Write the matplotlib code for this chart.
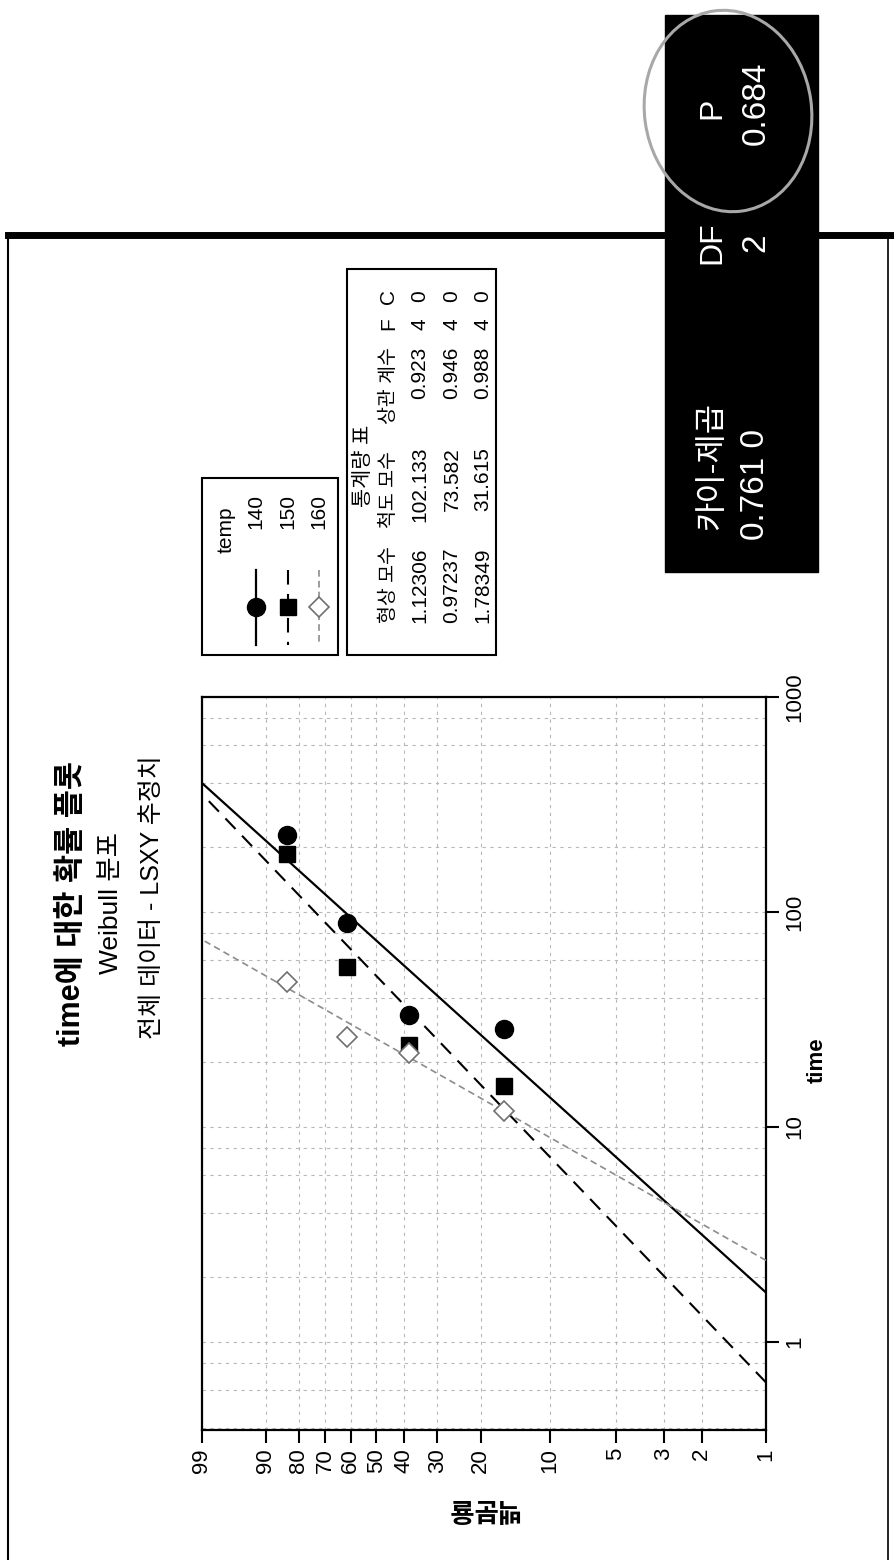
import numpy as np
import matplotlib
matplotlib.use("Agg")
import matplotlib.pyplot as plt
from matplotlib.patches import Rectangle, Ellipse
from matplotlib.ticker import FixedLocator, FixedFormatter, NullFormatter, NullLocator

plt.rcParams['font.family'] = ['Liberation Sans', 'Noto Sans CJK KR', 'DejaVu Sans']

W, H = 895, 1560

# 중앙 순위(%) - 각 온도 4개 고장
pct = [15.9, 38.6, 61.4, 84.1]
# 온도별 고장 시간
time_140 = [28.7, 33.1, 88.9, 227.0]
time_150 = [15.6, 24.0, 55.5, 185.5]
time_160 = [11.9, 22.0, 26.2, 47.1]

temps = ['140', '150', '160']
shape = [1.12306, 0.97237, 1.78349]
scale = [102.133, 73.582, 31.615]
corr = ['0.923', '0.946', '0.988']
n_fail = [4, 4, 4]
n_cens = [0, 0, 0]

chi_sq = '0.761 0'
dof = '2'
p_value = '0.684'

pct_ticks = [99, 90, 80, 70, 60, 50, 40, 30, 20, 10, 5, 3, 2, 1]
time_ticks = [1, 10, 100, 1000]
time_grid = [0.4, 0.6, 0.8, 2, 4, 6, 8, 20, 40, 60, 80, 200, 400, 600, 800]


def weib(p):
    p = np.clip(np.asarray(p, dtype=float), 1e-6, 100 - 1e-6)
    return np.log(-np.log(1 - p / 100))


def weib_inv(w):
    return 100 * (1 - np.exp(-np.exp(w)))


fig = plt.figure(figsize=(W / 100, H / 100), dpi=100)
fig.patch.set_facecolor('white')

# 확률도 (페이지가 90도 돌아간 상태: 가로 = 백분율, 세로 = time)
ax = fig.add_axes([202 / W, 1 - 1430 / H, (766 - 202) / W, (1430 - 697) / H])
ax.set_xscale('function', functions=(weib, weib_inv))
ax.set_yscale('log')
ax.set_xlim(99, 1)
ax.set_ylim(0.39, 1000)

line_styles = [
    dict(color='black', lw=1.6, ls='-'),
    dict(color='black', lw=1.5, ls=(0, (7, 4.5))),
    dict(color='#8c8c8c', lw=1.2, ls=(0, (4, 2.5))),
]
marker_styles = [
    dict(marker='o', ms=13, mfc='black', mec='black'),
    dict(marker='s', ms=11, mfc='black', mec='black'),
    dict(marker='D', ms=10, mfc='white', mec='#707070', mew=1.2),
]

pp = np.linspace(1, 99, 300)
for k in range(3):
    tt = scale[k] * (-np.log(1 - pp / 100)) ** (1 / shape[k])
    ax.plot(pp, tt, zorder=3, **line_styles[k])

for k, tvals in enumerate([time_140, time_150, time_160]):
    ax.plot(pct, tvals, ls='none', zorder=4, **marker_styles[k])

ax.xaxis.set_major_locator(FixedLocator(pct_ticks))
ax.xaxis.set_major_formatter(FixedFormatter([str(v) for v in pct_ticks]))
ax.xaxis.set_minor_locator(NullLocator())
ax.yaxis.set_major_locator(FixedLocator(time_ticks))
ax.yaxis.set_major_formatter(FixedFormatter([str(v) for v in time_ticks]))
ax.yaxis.set_minor_locator(FixedLocator(time_grid))
ax.yaxis.set_minor_formatter(NullFormatter())
ax.yaxis.tick_right()

ax.tick_params(axis='both', which='major', direction='out', length=9,
               width=1.5, labelsize=16, pad=4)
ax.tick_params(axis='y', which='minor', length=0)
ax.tick_params(axis='x', labelrotation=90)
ax.tick_params(axis='y', labelrotation=90)
for t in ax.yaxis.get_major_ticks():
    t.label2.set_va('center')

ax.grid(True, which='both', color='#b8b8b8', lw=0.8, ls=(0, (3, 4)))
ax.set_axisbelow(True)
for sp in ax.spines.values():
    sp.set_linewidth(1.6)

# 페이지 좌표 (픽셀, 위에서 아래로)
ov = fig.add_axes([0, 0, 1, 1])
ov.set_xlim(0, W)
ov.set_ylim(H, 0)
ov.axis('off')
ov.patch.set_alpha(0)

# 바깥 테두리
ov.plot([8, 8], [235, H], color='black', lw=1.5)
ov.plot([888, 888], [235, H], color='black', lw=1.2)
ov.plot([8, W], [235, 235], color='black', lw=5)

# 제목
ov.text(72, 903, 'time에 대한 확률 플롯', rotation=90, ha='center', va='center',
        fontsize=22, fontweight='bold')
ov.text(111, 903, 'Weibull 분포', rotation=90, ha='center', va='center', fontsize=19)
ov.text(152, 897, '전체 데이터 - LSXY 추정치', rotation=90, ha='center', va='center',
        fontsize=18)

# 축 제목
ov.text(483, 1508, '백분율', rotation=180, ha='center', va='center',
        fontsize=19, fontweight='bold')
ov.text(817, 1060, 'time', rotation=90, ha='center', va='center',
        fontsize=16, fontweight='bold')

# 범례
ov.add_patch(Rectangle((202, 478), 136, 177, fill=False, ec='black', lw=1.5))
ov.text(226, 553, 'temp', rotation=90, ha='center', va='bottom', fontsize=15)
leg_x = [256, 288, 319]
for k in range(3):
    ov.text(leg_x[k], 529, temps[k], rotation=90, ha='center', va='bottom', fontsize=15)
    ov.plot([leg_x[k], leg_x[k]], [570, 645], **line_styles[k])
    ov.plot([leg_x[k]], [607], ls='none', **marker_styles[k])

# 통계량 표
ov.add_patch(Rectangle((347, 269), 149, 386, fill=False, ec='black', lw=1.5))
ov.text(363, 466, '통계량 표', rotation=90, ha='center', va='center', fontsize=15)
hx = 389
ov.text(hx, 623, '형상 모수', rotation=90, ha='center', va='bottom', fontsize=14)
ov.text(hx, 490, '척도 모수', rotation=90, ha='center', va='center', fontsize=14)
ov.text(hx, 386, '상관 계수', rotation=90, ha='center', va='center', fontsize=14)
ov.text(hx, 324, 'F', rotation=90, ha='center', va='center', fontsize=15)
ov.text(hx, 296, 'C', rotation=90, ha='center', va='center', fontsize=15)
row_x = [420, 452, 483]
for k in range(3):
    x = row_x[k]
    ov.text(x, 623, f'{shape[k]:.5f}', rotation=90, ha='center', va='bottom', fontsize=15)
    ov.text(x, 447, f'{scale[k]:.3f}', rotation=90, ha='center', va='top', fontsize=15)
    ov.text(x, 347, corr[k], rotation=90, ha='center', va='top', fontsize=15)
    ov.text(x, 324, str(n_fail[k]), rotation=90, ha='center', va='center', fontsize=15)
    ov.text(x, 296, str(n_cens[k]), rotation=90, ha='center', va='center', fontsize=15)

# 카이-제곱 검정 결과
ov.add_patch(Rectangle((665, 15), 153, 557, color='black', zorder=5))
ov.text(712, 530, '카이-제곱', rotation=90, ha='center', va='bottom', fontsize=23,
        color='white', zorder=6)
ov.text(756, 540, chi_sq, rotation=90, ha='center', va='bottom', fontsize=24,
        color='white', zorder=6)
ov.text(712, 243, 'DF', rotation=90, ha='center', va='center', fontsize=23,
        color='white', zorder=6)
ov.text(756, 243, dof, rotation=90, ha='center', va='center', fontsize=24,
        color='white', zorder=6)
ov.text(712, 108, 'P', rotation=90, ha='center', va='center', fontsize=23,
        color='white', zorder=6)
ov.text(756, 103, p_value, rotation=90, ha='center', va='center', fontsize=24,
        color='white', zorder=6)
ov.add_patch(Ellipse((728, 111), 167, 202, angle=-8, fill=False, ec='#a8a8a8',
                     lw=2.2, zorder=7))

fig.savefig('out.png', dpi=100, facecolor='white')
